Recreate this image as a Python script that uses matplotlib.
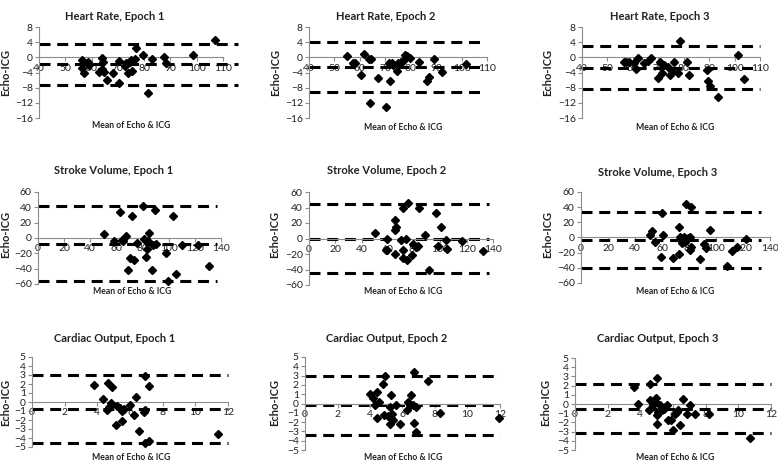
import numpy as np
import matplotlib
matplotlib.use('Agg')
import matplotlib.pyplot as plt

plt.rcParams['font.family'] = ['Lato', 'DejaVu Sans']

# Bland-Altman data: mean of Echo & ICG (x) vs Echo-ICG difference (y)
hr1_x = [56.5, 56.5, 57, 58.6, 59, 63, 64, 64.2, 64, 64.6, 65.9, 68.2, 70.4, 70.3, 72.6, 73.2, 73.9, 74.5,
         75.1, 75.5, 76.4, 76.8, 79.6, 81.5, 83.1, 87.6, 88.4, 98.6, 106.8]
hr1_y = [-0.7, -2.7, -4, -1.1, -2, -3.8, -0.2, -1.1, -3.1, -3.9, -5.9, -4, -1, -6.7, -2.2, -1.6, -4, -1.3,
         -0.7, -3.6, -0.5, 2.4, 0.6, -9.3, -0.4, 0.2, -1.4, 0.6, 4.6]
hr2_x = [54.9, 57.4, 58, 60.4, 61.6, 63.6, 64.2, 63.8, 67.3, 70.3, 71.3, 71.9, 72.5, 73.1, 74.8, 75, 76.2,
         76.9, 77.7, 78.7, 79.6, 83.3, 86.4, 87.2, 89.3, 92.4, 101.7]
hr2_y = [0.3, -1.4, -1.4, -4.6, 0.9, -0.4, -0.4, -12, -5.5, -13, -1.4, -6.2, -1.4, -2, -3.7, -1.4, -1.1,
         -0.9, 0.7, 0.4, -0.2, -1.2, -6.2, -5.2, -0.5, -3.8, -1.8]
hr3_x = [56.4, 57.3, 58.3, 60.3, 61.2, 61.9, 64.5, 65.8, 67.1, 69.8, 70.8, 71.3, 72.4, 73.9, 74.7, 75.3,
         76, 77.6, 78.5, 81.2, 81.9, 89.1, 89.4, 90.5, 93.3, 101.2, 103.6]
hr3_y = [-1.2, -1.1, -1.1, -1.6, -3.1, -0.2, -1.4, -0.9, -0.2, -5.5, -1.2, -4, -2, -2.5, -4.6, -3.6,
         -1.1, -4, 4.3, -1.1, -4.6, -3.4, -6.2, -7.6, -10.5, 0.6, -5.8]

sv1_x = [50.4, 58.5, 62.8, 64.4, 65.4, 67.4, 68.7, 70.5, 72, 73.8, 75.8, 80.7, 81.4, 82.7, 83.5, 84, 85.2,
         87.3, 87.8, 89.6, 90.3, 98, 99.2, 103, 105.6, 110.2, 122.6, 131]
sv1_y = [5.5, -4.1, 34.3, -2.4, -4.1, 2, -41.3, -26, 29, -28.6, -6.8, 42.1, -1.1, -24.2, -13.8, -3.3, 6.8,
         -41.3, -8.5, 36, -7.6, -19.9, -55.7, 28.6, -46.9, -9.4, -8.5, -36.5]
sv2_x = [50.4, 59, 58.5, 59.5, 65.1, 65.8, 66.3, 65.8, 70, 71.3, 71.7, 71.3, 73.7, 74.9, 75.7, 78.1, 79.1,
         81.1, 83, 83.5, 88.5, 91.6, 97, 98.3, 100.2, 104.4, 104.9, 116.7, 132.2]
sv2_y = [7.3, 0, -14.2, -15, -20.2, 23.6, 14.2, 11.6, -2.1, 39.9, -15, -25.8, 0, -27.9, 46.4, -21.5, -7.3,
         -10.7, -9.9, 39.5, 4.3, -40.8, 33, -9.9, 15, -1.3, -13.7, -3, -15.9]
sv3_x = [50.8, 52.5, 55, 60, 60.7, 59.5, 68.1, 72.3, 73.1, 72.6, 74.3, 75.1, 76.1, 76.8, 77.6, 78.8, 79.3,
         80.5, 81, 81.8, 81.8, 88, 91, 92.4, 95.4, 108.5, 112.2, 115.2, 122.2]
sv3_y = [3.3, 8.5, -5.5, 31.7, 3.3, -25.1, -27.3, 14.2, 0.2, -21.8, -3.3, -7.6, 0.2, -5.5, 43.9, -2.4, -1.1,
         0.2, -16.4, 40.4, -12, -28.6, -8.5, -13.3, 9.8, -38.2, -17.2, -12.9, -2.4]

co1_x = [3.8, 4.35, 4.6, 4.66, 4.72, 4.82, 4.92, 5.13, 5.23, 5.37, 5.5, 5.54, 5.64, 5.99, 6.26, 6.36,
         6.56, 6.83, 6.91, 6.93, 6.93, 7.14, 7.14, 11.4]
co1_y = [1.85, 0.37, -0.93, 2.15, -0.56, -0.1, 1.67, -2.6, -0.44, -0.67, -2.1, -1.04, -0.74, -0.3, -1.48,
         0.56, -3.2, -1.1, -0.93, 2.85, -4.5, 1.78, -4.3, -3.5]
co2_x = [4.0, 4.16, 4.31, 4.41, 4.45, 4.57, 4.78, 4.86, 4.92, 5.13, 5.23, 5.27, 5.27, 5.23, 5.33, 5.39,
         5.6, 5.85, 6.26, 6.36, 6.46, 6.5, 6.63, 6.71, 6.71, 6.83, 6.81, 7.59, 8.31, 11.96]
co2_y = [1.07, 0.54, -0.18, 1.25, -1.54, 0.18, 2.14, -1.25, 2.96, -1.32, -0.36, 0.89, -1.61, -2.25, -1.18,
         -1.79, -0.18, -2.25, -0.71, 0.18, -0.11, 0.89, -0.18, -2.14, 3.39, -0.36, -3.04, 2.43, -1.07, -1.54]
co3_x = [3.63, 3.83, 4.5, 4.6, 4.6, 4.77, 4.91, 4.97, 5.01, 5.01, 5.05, 5.11, 5.21, 5.31, 5.42, 5.52, 5.66,
         5.72, 5.86, 6.02, 6.12, 6.22, 6.33, 6.43, 6.59, 6.84, 7.04, 7.34, 8.22, 10.69]
co3_y = [1.84, 0.04, -0.69, 2.2, 0.4, -0.14, 0.22, 0.69, -2.13, -1.16, 2.82, -0.87, -0.14, -0.69, -0.51,
         -0.32, -0.07, -1.7, -1.77, -2.85, -1.05, -0.87, -0.69, -2.24, 0.58, -1.05, -0.14, -1.05, -1.05, -3.68]

# limits of agreement: upper, mean bias, lower
hr1_loa = [3.4, -1.8, -7.3]
hr2_loa = [4.0, -2.6, -9.1]
hr3_loa = [2.9, -2.7, -8.4]
sv1_loa = [41.5, -7.5, -56.5]
sv2_loa = [44.0, -0.5, -44.0]
sv3_loa = [33.8, -3.3, -40.4]
co1_loa = [3.0, -0.8, -4.6]
co2_loa = [3.0, -0.2, -3.4]
co3_loa = [2.2, -0.5, -3.2]

titles = ['Heart Rate, Epoch 1', 'Heart Rate, Epoch 2', 'Heart Rate, Epoch 3',
          'Stroke Volume, Epoch 1', 'Stroke Volume, Epoch 2', 'Stroke Volume, Epoch 3',
          'Cardiac Output, Epoch 1', 'Cardiac Output, Epoch 2', 'Cardiac Output, Epoch 3']
xs = [hr1_x, hr2_x, hr3_x, sv1_x, sv2_x, sv3_x, co1_x, co2_x, co3_x]
ys = [hr1_y, hr2_y, hr3_y, sv1_y, sv2_y, sv3_y, co1_y, co2_y, co3_y]
loas = [hr1_loa, hr2_loa, hr3_loa, sv1_loa, sv2_loa, sv3_loa, co1_loa, co2_loa, co3_loa]

hr_xticks = np.arange(40, 111, 10)
hr_yticks = np.arange(-16, 9, 4)
sv_xticks = np.arange(0, 141, 20)
sv_yticks = np.arange(-60, 61, 20)
co_xticks = np.arange(0, 13, 2)
co_yticks = np.arange(-5, 6, 1)

W, H = 778, 462
# pixel boxes: (left, right, top, bottom) of each plot area
boxes = [(39, 223, 27, 118), (309, 487, 27, 118), (582, 760, 27, 118),
         (38, 221, 192, 284), (309, 493, 192, 285), (581, 770, 192, 283),
         (32, 228, 357, 447), (305, 500, 357, 450), (575, 771, 358, 450)]
title_pos = [(115, 17), (386, 16), (660, 16), (114, 171), (387, 171), (658, 172),
             (115, 338), (387, 338), (658, 338)]
xlab_pos = [(131, 125), (403, 127), (675, 127), (132, 292), (403, 292), (675, 292),
            (131, 458), (403, 458), (675, 458)]
ylab_pos = [(6, 72), (276, 72), (548, 72), (6, 234), (275, 234), (548, 234),
            (6, 402), (275, 402), (546, 402)]
dash_end = [1.08, 0.96, 1.0, 0.98, 0.98, 0.95, 1.0, 1.0, 1.0]

fig = plt.figure(figsize=(W / 100, H / 100), dpi=100)
fig.patch.set_facecolor('white')

axis_gray = '#8c8c8c'
txt = '#222222'

for i in range(9):
    l, r, t, b = boxes[i]
    ax = fig.add_axes([l / W, 1 - b / H, (r - l) / W, (b - t) / H])
    row = i // 3
    if row == 0:
        xt, yt = hr_xticks, hr_yticks
    elif row == 1:
        xt, yt = sv_xticks, sv_yticks
    else:
        xt, yt = co_xticks, co_yticks
    ax.set_xlim(xt[0], xt[-1])
    ax.set_ylim(yt[0], yt[-1])
    ax.set_xticks(xt)
    ax.set_yticks(yt)

    for v in loas[i]:
        ax.axhline(v, xmin=0, xmax=dash_end[i], color='black', lw=2.2,
                   linestyle=(0, (3.6, 2.2)), clip_on=False, zorder=2)
    ax.plot(xs[i], ys[i], linestyle='none', marker='D', ms=4.0, color='black',
            clip_on=False, zorder=3)

    ax.spines['top'].set_visible(False)
    ax.spines['right'].set_visible(False)
    ax.spines['bottom'].set_position(('data', 0))
    for s in ['left', 'bottom']:
        ax.spines[s].set_color(axis_gray)
        ax.spines[s].set_linewidth(0.8)
    ax.tick_params(axis='both', colors=axis_gray, labelcolor=txt, labelsize=7.5,
                   length=3, width=0.8, pad=1.5)
    ax.patch.set_alpha(0)

    fig.text(title_pos[i][0] / W, 1 - title_pos[i][1] / H, titles[i], ha='center', va='center',
             fontsize=8, fontweight='bold', color=txt)
    fig.text(xlab_pos[i][0] / W, 1 - xlab_pos[i][1] / H, 'Mean of Echo & ICG', ha='center',
             va='center', fontsize=6.2, fontweight='bold', color=txt)
    fig.text(ylab_pos[i][0] / W, 1 - ylab_pos[i][1] / H, 'Echo-ICG', ha='center', va='center',
             rotation=90, fontsize=8, fontweight='bold', color=txt)

fig.savefig('out.png', dpi=100)
